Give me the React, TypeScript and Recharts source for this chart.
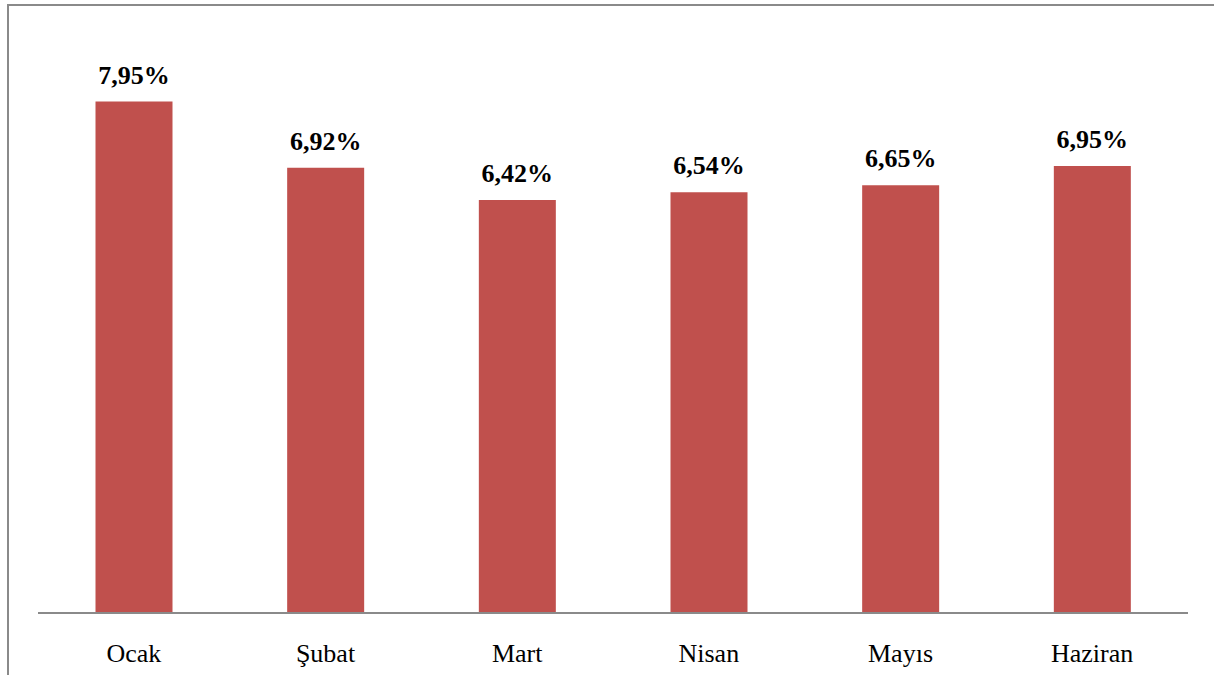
import { Bar, BarChart, XAxis, YAxis, LabelList } from "recharts"

const months = ["Ocak", "Şubat", "Mart", "Nisan", "Mayıs", "Haziran"]
const rates = [7.95, 6.92, 6.42, 6.54, 6.65, 6.95]

const data = months.map((name, i) => ({ name, rate: rates[i] }))

const font = "Liberation Serif, Times New Roman, serif"

const fmt = (v: number) => `${v.toFixed(2).replace(".", ",")}%`

const MonthTick = (props: any) => {
  const { x, y, payload } = props
  return (
    <text x={x} y={y + 41} textAnchor="middle" fontFamily={font} fontSize={26} fill="#000">
      {payload.value}
    </text>
  )
}

const RateLabel = (props: any) => {
  const { x, y, width, value } = props
  return (
    <text x={x + width / 2} y={y - 18} textAnchor="middle" fontFamily={font} fontSize={26} fontWeight="bold" fill="#000">
      {fmt(Number(value))}
    </text>
  )
}

export default function App() {
  return (
    <div style={{ position: "absolute", left: 0, top: 0, width: 1214, height: 675, background: "#fff", overflow: "hidden" }}>
      {/* chart frame: only top and left edges are visible in the crop */}
      <div
        style={{
          position: "absolute",
          left: 7,
          top: 4,
          width: 1214,
          height: 680,
          borderTop: "2px solid #8a8a8a",
          borderLeft: "2px solid #8a8a8a",
        }}
      />
      <BarChart
        width={1214}
        height={675}
        data={data}
        margin={{ top: 34, right: 26, bottom: 0, left: 38 }}
        barCategoryGap="30%"
        style={{ position: "absolute", left: 0, top: 0 }}
      >
        <XAxis
          dataKey="name"
          height={62}
          tickLine={false}
          axisLine={{ stroke: "#8a8a8a", strokeWidth: 2 }}
          tick={<MonthTick />}
          interval={0}
        />
        <YAxis hide domain={[0, 9]} />
        <Bar dataKey="rate" fill="#C0504D" isAnimationActive={false}>
          <LabelList dataKey="rate" content={<RateLabel />} />
        </Bar>
      </BarChart>
    </div>
  )
}
